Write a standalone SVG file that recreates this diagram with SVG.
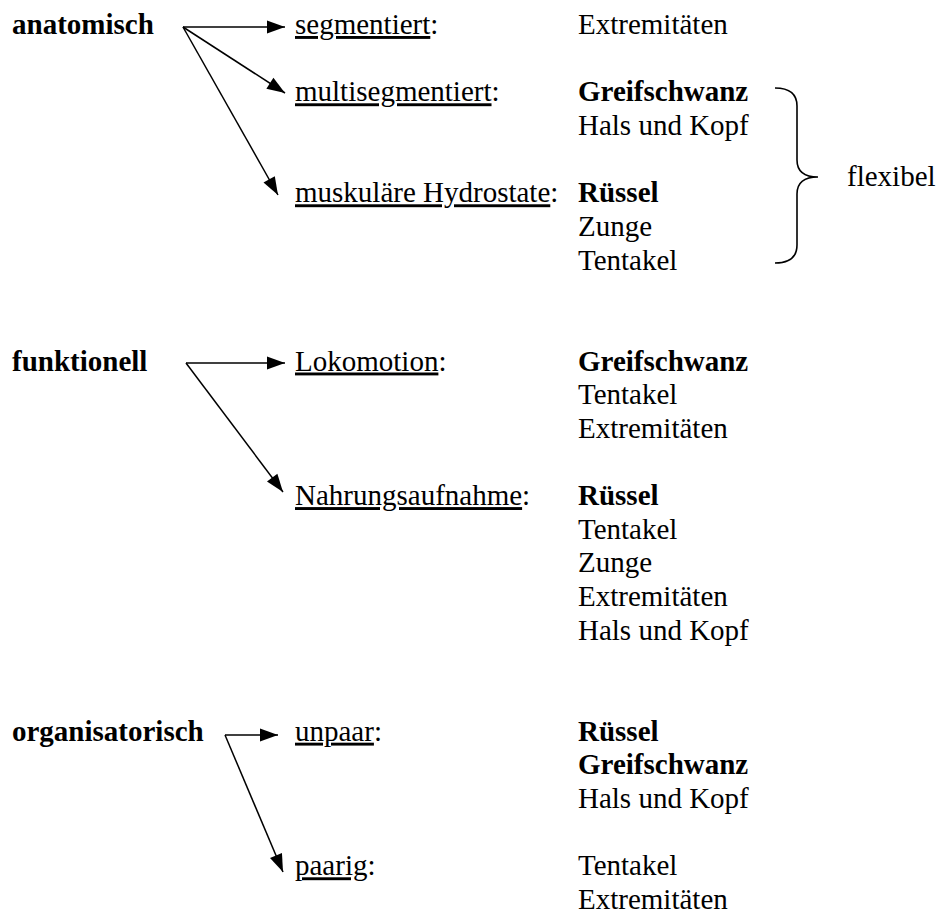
<svg xmlns="http://www.w3.org/2000/svg" width="937" height="914" viewBox="0 0 937 914">
<style>
text{font-family:"Liberation Serif","Times New Roman",serif;font-size:29px;fill:#000}
.b{font-weight:bold}
.u{text-decoration:underline}
.c line{stroke:#000;stroke-width:1.5;marker-end:url(#ah)}
.br{fill:none;stroke:#000;stroke-width:1.6}
</style>
<defs>
<marker id="ah" markerUnits="userSpaceOnUse" markerWidth="18" markerHeight="13" refX="18" refY="6.5" orient="auto" overflow="visible">
<path d="M0,0 L18,6.5 L0,13 z" fill="#000"/>
</marker>
</defs>
<rect width="937" height="914" fill="#fff"/>
<g id="anatomisch">
<text class="b" x="12" y="34">anatomisch</text>
</g>
<g id="segmentiert">
<text x="295" y="34"><tspan class="u">segmentiert</tspan>:</text>
<text x="578" y="34">Extremitäten</text>
</g>
<g id="multisegmentiert">
<text x="295" y="101.3"><tspan class="u">multisegmentiert</tspan>:</text>
<text class="b" x="578" y="101.3">Greifschwanz</text>
<text x="578" y="135">Hals und Kopf</text>
</g>
<g id="hydrostate">
<text x="295" y="202.3"><tspan class="u">muskuläre Hydrostate</tspan>:</text>
<text class="b" x="578" y="202.3">Rüssel</text>
<text x="578" y="235.9">Zunge</text>
<text x="578" y="269.6">Tentakel</text>
</g>
<g id="flexibel">
<path class="br" d="M775,88 Q797,88 797,106 L797,160 Q797,177 818,177 Q797,177 797,194 L797,245 Q797,263 775,263"/>
<text x="847" y="186">flexibel</text>
</g>
<g id="funktionell">
<text class="b" x="12" y="370.5">funktionell</text>
</g>
<g id="lokomotion">
<text x="295" y="370.5"><tspan class="u">Lokomotion</tspan>:</text>
<text class="b" x="578" y="370.5">Greifschwanz</text>
<text x="578" y="404.2">Tentakel</text>
<text x="578" y="437.8">Extremitäten</text>
</g>
<g id="nahrungsaufnahme">
<text x="295" y="505.1"><tspan class="u">Nahrungsaufnahme</tspan>:</text>
<text class="b" x="578" y="505.1">Rüssel</text>
<text x="578" y="538.8">Tentakel</text>
<text x="578" y="572.4">Zunge</text>
<text x="578" y="606.1">Extremitäten</text>
<text x="578" y="639.7">Hals und Kopf</text>
</g>
<g id="organisatorisch">
<text class="b" x="12" y="740.7">organisatorisch</text>
</g>
<g id="unpaar">
<text x="295" y="740.7"><tspan class="u">unpaar</tspan>:</text>
<text class="b" x="578" y="740.7">Rüssel</text>
<text class="b" x="578" y="774.3">Greifschwanz</text>
<text x="578" y="808">Hals und Kopf</text>
</g>
<g id="paarig">
<text x="295" y="875.3"><tspan class="u">paarig</tspan>:</text>
<text x="578" y="875.3">Tentakel</text>
<text x="578" y="908.9">Extremitäten</text>
</g>
<g id="connectors" class="c">
<line x1="183" y1="27" x2="285" y2="27"/>
<line x1="183" y1="27" x2="285" y2="93"/>
<line x1="183" y1="27" x2="278" y2="195"/>
<line x1="186" y1="363" x2="285" y2="363"/>
<line x1="186" y1="363" x2="283" y2="492"/>
<line x1="225" y1="735" x2="278" y2="735"/>
<line x1="225" y1="735" x2="283" y2="872"/>
</g>
</svg>
